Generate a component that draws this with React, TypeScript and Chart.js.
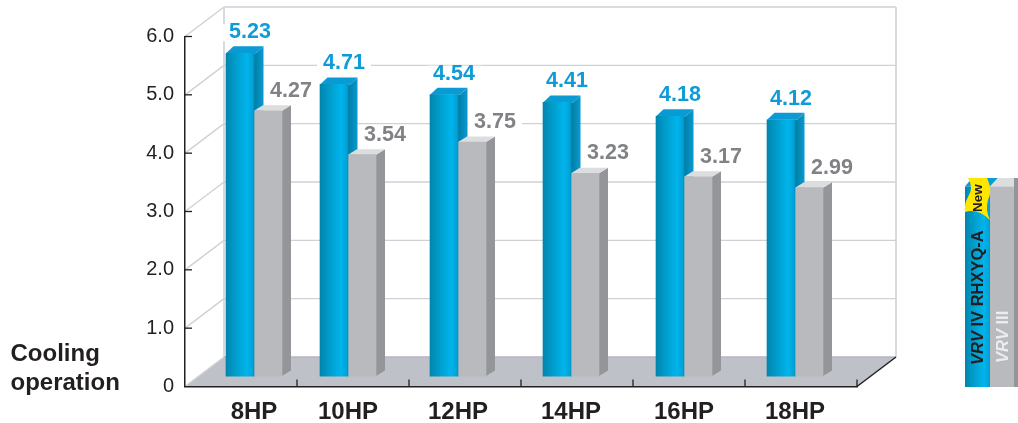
import React, { useEffect, useRef } from "react";
import { Chart, registerables, CategoryScale } from "chart.js";

const categories = ["8HP", "10HP", "12HP", "14HP", "16HP", "18HP"];
const vrvIvValues = [5.23, 4.71, 4.54, 4.41, 4.18, 4.12];
const vrvIiiValues = [4.27, 3.54, 3.75, 3.23, 3.17, 2.99];
const yTicks = [0, 1, 2, 3, 4, 5, 6];
const seriesNames = ["VRV IV RHXYQ-A", "VRV III"];
const newBadge = "New";
const sideLabel = ["Cooling", "operation"];

const groupShift = [13, -5, -7, -6, -5, -6];
const BAR_W = 28;
const FONT = '"Liberation Sans", Arial, sans-serif';
const DEPTH_X = 39;
const DEPTH_Y = 29.5;

class ShiftedCategoryScale extends CategoryScale {
  static id = "shiftedCategory";
  static defaults = CategoryScale.defaults;
  getPixelForValue(value: any) {
    const base = super.getPixelForValue(value);
    const idx = typeof value === "number" ? value : this.parse(value);
    return base + (groupShift[idx as number] || 0);
  }
}

Chart.register(...registerables, ShiftedCategoryScale);

function poly(ctx: CanvasRenderingContext2D, pts: number[][], fill: any) {
  ctx.beginPath();
  pts.forEach((p, i) => (i ? ctx.lineTo(p[0], p[1]) : ctx.moveTo(p[0], p[1])));
  ctx.closePath();
  ctx.fillStyle = fill;
  ctx.fill();
}

function line(ctx: CanvasRenderingContext2D, x1: number, y1: number, x2: number, y2: number, color: string, w: number) {
  ctx.beginPath();
  ctx.moveTo(x1, y1);
  ctx.lineTo(x2, y2);
  ctx.strokeStyle = color;
  ctx.lineWidth = w;
  ctx.stroke();
}

function blueFront(ctx: CanvasRenderingContext2D, x0: number, x1: number) {
  const g = ctx.createLinearGradient(x0, 0, x1, 0);
  g.addColorStop(0, "#0086ae");
  g.addColorStop(0.35, "#009fce");
  g.addColorStop(0.7, "#00b4ec");
  g.addColorStop(0.88, "#00a4d8");
  g.addColorStop(1, "#007fa6");
  return g;
}

const WALL = "#cfd1d7";

const scenePlugin = {
  id: "scene",
  beforeDraw(chart: any) {
    const { ctx, chartArea: a, scales } = chart;
    const y = scales.y;
    ctx.save();
    const bl = a.left + DEPTH_X;
    const br = a.right + DEPTH_X;
    const bottom = y.getPixelForValue(0);
    // floor
    poly(ctx, [[a.left, bottom], [bl, bottom - DEPTH_Y], [br, bottom - DEPTH_Y], [a.right, bottom]], "#bfc1c9");
    // wall grid
    yTicks.forEach((t) => {
      const py = y.getPixelForValue(t);
      line(ctx, a.left, py, bl, py - DEPTH_Y, WALL, 1.4);
      if (t > 0) line(ctx, bl, py - DEPTH_Y, br, py - DEPTH_Y, WALL, 1.4);
    });
    const top = y.getPixelForValue(6) - DEPTH_Y;
    line(ctx, bl, top, bl, bottom - DEPTH_Y, WALL, 1.6);
    line(ctx, br, top, br, bottom - DEPTH_Y, WALL, 1.6);
    line(ctx, bl, bottom - DEPTH_Y, br, bottom - DEPTH_Y, "#b4b6be", 1.4);
    ctx.restore();
  },
  beforeDatasetsDraw(chart: any) {
    const { ctx, chartArea: a, scales } = chart;
    const y = scales.y;
    const bottom = y.getPixelForValue(0);
    ctx.save();
    // axis ticks, pointing inward
    yTicks.forEach((t) => {
      if (t > 0) line(ctx, a.left, y.getPixelForValue(t), a.left + 7, y.getPixelForValue(t), "#231f20", 1.3);
    });
    for (let i = 1; i <= categories.length; i++) {
      const px = a.left + (i * (a.right - a.left)) / categories.length;
      line(ctx, px, bottom, px, bottom - 7, "#231f20", 1.3);
    }
    line(ctx, a.right, bottom, a.right + DEPTH_X, bottom - DEPTH_Y, "#231f20", 1.5);

    // bar side and top faces
    const blue = chart.getDatasetMeta(0).data;
    const gray = chart.getDatasetMeta(1).data;
    categories.forEach((_, i) => {
      const b = blue[i];
      const bx1 = b.x + BAR_W / 2;
      const bx0 = b.x - BAR_W / 2;
      const by = b.y;
      const bd = 7.5;
      const bh = 7;
      const sg = ctx.createLinearGradient(bx1, 0, bx1 + bd + 2, 0);
      sg.addColorStop(0, "#007ca3");
      sg.addColorStop(1, "#0a9bd0");
      poly(ctx, [[bx1, by], [bx1 + 2, by], [bx1 + 2 + bd, by - bh], [bx1 + 2 + bd, b.base - bh], [bx1, b.base]], sg);
      poly(ctx, [[bx0, by], [bx0 + bd, by - bh], [bx1 + 2 + bd, by - bh], [bx1 + 2, by]], "#0a9ad4");

      const g = gray[i];
      const gx1 = g.x + BAR_W / 2;
      const gx0 = g.x - BAR_W / 2;
      const gd = 9;
      const gh = 5.5;
      poly(ctx, [[gx1, g.y], [gx1 + gd, g.y - gh], [gx1 + gd, g.base - gh], [gx1, g.base]], "#939598");
      poly(ctx, [[gx0, g.y], [gx0 + gd, g.y - gh], [gx1 + gd, g.y - gh], [gx1, g.y]], "#dcddde");
    });
    ctx.restore();
  },
  afterDatasetsDraw(chart: any) {
    const { ctx } = chart;
    ctx.save();
    ctx.textAlign = "center";
    ctx.textBaseline = "middle";
    ctx.font = `bold 21.5px ${FONT}`;
    const drawValue = (text: string, x: number, y: number, color: string) => {
      const w = ctx.measureText(text).width;
      ctx.fillStyle = "#ffffff";
      ctx.fillRect(x - w / 2 - 6, y - 8, w + 12, 17);
      ctx.fillStyle = color;
      ctx.fillText(text, x, y);
    };
    const blue = chart.getDatasetMeta(0).data;
    const gray = chart.getDatasetMeta(1).data;
    categories.forEach((_, i) => {
      drawValue(vrvIvValues[i].toFixed(2), blue[i].x + 10, blue[i].y - 21, "#0f9bd7");
      drawValue(vrvIiiValues[i].toFixed(2), gray[i].x + 23, gray[i].y - 20, "#808285");
    });

    // left caption
    ctx.textAlign = "left";
    ctx.fillStyle = "#231f20";
    ctx.font = `bold 24px ${FONT}`;
    ctx.fillText(sideLabel[0], 10.5, 354);
    ctx.fillText(sideLabel[1], 10.5, 383);

    // legend pillar
    poly(ctx, [[965, 186.5], [972, 178], [998, 178], [990, 186.5]], "#0a9ad4");
    poly(ctx, [[990, 186.5], [998, 178], [1018, 178], [1014, 186.5]], "#dcddde");
    ctx.fillStyle = blueFront(ctx, 965, 992);
    ctx.fillRect(965, 186.5, 25, 200.5);
    ctx.fillStyle = "#b9babd";
    ctx.fillRect(990, 186.5, 24, 200.5);
    ctx.fillStyle = "#939598";
    ctx.fillRect(1014, 178, 4, 209);

    ctx.beginPath();
    ctx.moveTo(968, 178);
    ctx.lineTo(987, 178);
    ctx.quadraticCurveTo(993, 190, 988, 200);
    ctx.quadraticCurveTo(985, 210, 990, 220);
    ctx.quadraticCurveTo(978, 208, 965, 212);
    ctx.quadraticCurveTo(964, 204, 968, 197);
    ctx.quadraticCurveTo(974, 188, 968, 178);
    ctx.closePath();
    ctx.fillStyle = "#ffe600";
    ctx.fill();

    const vertical = (x: number, y: number, parts: [string, string][], color: string) => {
      ctx.save();
      ctx.translate(x, y);
      ctx.rotate(-Math.PI / 2);
      ctx.fillStyle = color;
      ctx.textAlign = "left";
      ctx.textBaseline = "middle";
      let at = 0;
      parts.forEach(([text, font]) => {
        ctx.font = font;
        ctx.fillText(text, at, 0);
        at += ctx.measureText(text).width;
      });
      ctx.restore();
    };
    const ital = `italic bold 16.5px ${FONT}`;
    const plain = `bold 16.5px ${FONT}`;
    vertical(978.5, 212, [[newBadge, `bold 13.5px ${FONT}`]], "#231f20");
    vertical(978.5, 365, [[seriesNames[0].slice(0, 3), ital], [seriesNames[0].slice(3), plain]], "#231f20");
    vertical(1003, 363, [[seriesNames[1].slice(0, 3), ital], [seriesNames[1].slice(3), plain]], "#ececee");
    ctx.restore();
  },
};

export default function App() {
  const ref = useRef<HTMLCanvasElement>(null);
  useEffect(() => {
    const chart = new Chart(ref.current as HTMLCanvasElement, {
      type: "bar",
      plugins: [scenePlugin],
      data: {
        labels: categories,
        datasets: [
          {
            label: seriesNames[0],
            data: vrvIvValues,
            yAxisID: "yBar",
            base: -0.15,
            barThickness: BAR_W,
            backgroundColor: (c: any) => {
              const px = c.type === "data" ? c.chart.scales.x.getPixelForValue(c.dataIndex) : NaN;
              if (!Number.isFinite(px)) return "#00a3d9";
              return blueFront(c.chart.ctx, px - BAR_W, px + 2);
            },
          },
          {
            label: seriesNames[1],
            data: vrvIiiValues,
            yAxisID: "yBar",
            base: -0.15,
            barThickness: BAR_W,
            backgroundColor: "#b9babd",
          },
        ] as any,
      },
      options: {
        responsive: false,
        animation: false,
        events: [],
        devicePixelRatio: 1,
        layout: { padding: { top: 36.5, right: 161, left: 0, bottom: 0 } },
        plugins: { legend: { display: false }, tooltip: { enabled: false } },
        scales: {
          x: {
            type: "shiftedCategory",
            offset: true,
            grid: { display: false, drawTicks: false },
            border: { color: "#231f20", width: 1.5 },
            ticks: {
              color: "#231f20",
              font: { family: FONT, size: 24, weight: "bold" },
              padding: 11,
              maxRotation: 0,
              autoSkip: false,
            },
            afterFit: (s: any) => {
              s.height = 423 - 386.5;
            },
          },
          y: {
            min: 0,
            max: 6,
            grid: { display: false, drawTicks: false },
            border: { color: "#231f20", width: 1.5 },
            afterBuildTicks: (s: any) => {
              s.ticks = yTicks.map((value) => ({ value }));
            },
            ticks: {
              color: "#231f20",
              font: { family: FONT, size: 20 },
              padding: 11,
              callback: (v: any) => (v === 0 ? "0" : Number(v).toFixed(1)),
            },
            afterFit: (s: any) => {
              s.width = 185;
            },
          },
          yBar: {
            display: false,
            min: -0.3242,
            max: 5.5092,
          },
        },
      } as any,
    });
    return () => chart.destroy();
  }, []);
  return (
    <div style={{ position: "absolute", left: 0, top: 0, width: 1018, height: 423 }}>
      <canvas ref={ref} width={1018} height={423} style={{ display: "block" }} />
    </div>
  );
}
